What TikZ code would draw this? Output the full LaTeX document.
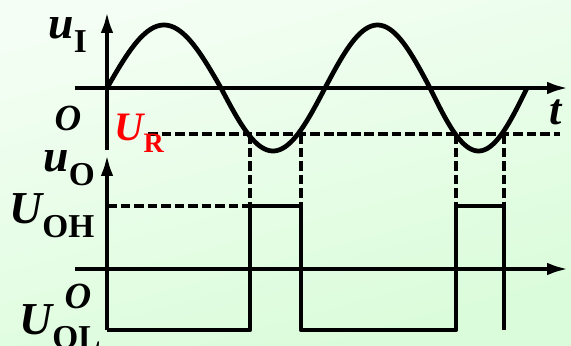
\documentclass[tikz,border=0pt]{standalone}
\usepackage{fontspec}
\setmainfont{Liberation Serif}
\usetikzlibrary{arrows.meta, positioning, calc}
\definecolor{BgTop}{RGB}{244, 254, 244}
\definecolor{BgBottom}{RGB}{218, 252, 218}
\definecolor{InkBlack}{RGB}{0, 0, 0}
\definecolor{RefRed}{RGB}{255, 0, 0}
\newcommand{\biglbl}[2]{{\fontsize{26}{26}\selectfont\bfseries\itshape #1}\raisebox{-8.5pt}{\fontsize{19}{19}\selectfont\bfseries #2}}

\begin{document}
\begin{tikzpicture}[x=0.02cm, y=-0.02cm,
    axis/.style={line width=2.7pt, InkBlack, -{Latex[length=13pt, width=7pt]}},
    wave/.style={line width=2.7pt, InkBlack, line join=round},
    guide/.style={line width=2.2pt, InkBlack, dash pattern=on 5.5pt off 2.2pt},
    lbl/.style={inner sep=0pt, anchor=base west, text=InkBlack}]
        % background
        \shade[top color=BgTop, bottom color=BgBottom, shading angle=15] (0,0) rectangle (571,345);
        \useasboundingbox (0,0) rectangle (571,345);
        % key points
        \coordinate (ia) at (107,150);
        \coordinate (it) at (107,10);
        \coordinate (ta) at (75,88);
        \coordinate (tt) at (570,88);
        \coordinate (oa) at (107,330);
        \coordinate (ot) at (107,153);
        \coordinate (ba) at (75,269);
        \coordinate (bt) at (570,269);
        \coordinate (r0) at (148,134);
        \coordinate (r1) at (560,134);
        \coordinate (h0) at (107,206);
        % reference level and dropped lines
        \draw[guide] (r0) -- (r1);
        \draw[guide] (h0) -- (250,206);
        \foreach \xc in {250, 301, 456, 504}
            \draw[guide] (\xc,134) -- (\xc,206);
        % axes
        \draw[axis] (ia) -- (it);
        \draw[axis] (ta) -- (tt);
        \draw[axis] (oa) -- (ot);
        \draw[axis] (ba) -- (bt);
        % input wave
        \foreach \a/\b/\s in {107/221/1, 221/325/-1, 325/430/1, 430/527/-1}
            \draw[wave] plot[domain=\a:\b, samples=40, smooth] (\x, {88 - \s*63*sin((\x-\a)*(180/(\b-\a)))});
        % output wave
        \draw[wave] (oa) -| (250,206) -| (301,330) -| (456,206) -| (504,330);
        % labels
        \node[lbl] (ui) at (48,38) {\biglbl{u}{I}};
        \node[lbl] (uo) at (43,171) {\biglbl{u}{O}};
        \node[lbl] (uoh) at (9,223) {\biglbl{U}{OH}};
        \node[lbl] (uol) at (19,334) {\biglbl{U}{OL}};
        \node[text=InkBlack, font=\fontsize{21}{21}\selectfont\bfseries\itshape] (o1) at (68,118) {O};
        \node[text=InkBlack, font=\fontsize{21}{21}\selectfont\bfseries\itshape] (o2) at (78,296) {O};
        \node[text=InkBlack, font=\fontsize{25}{25}\selectfont\bfseries\itshape] (tl) at (556,112) {t};
        \node[lbl, text=RefRed] (ur) at (114,140) {{\fontsize{23}{23}\selectfont\bfseries\itshape U}\raisebox{-7pt}{\fontsize{16}{16}\selectfont\bfseries R}};
    \end{tikzpicture}
\end{document}
